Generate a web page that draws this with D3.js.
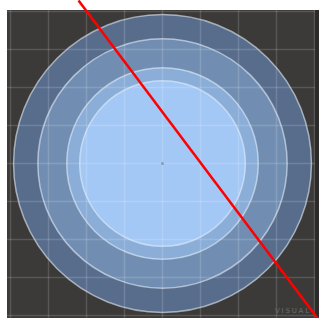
<!DOCTYPE html>
<html>
<head>
<meta charset="utf-8">
<script src="https://cdn.jsdelivr.net/npm/d3@7"></script>
<style>
  body { margin: 0; background: #fff; }
</style>
</head>
<body>
<div id="chart"></div>
<script>
// ring radii, in grid units (outer to inner)
const rings = [3.92, 3.28, 2.52, 2.18];
const ringColors = ["#5a7192", "#7390b5", "#8db0da", "#a6caf6"];
// grid ticks
const gridTicks = [-4, -3, -2, -1, 0, 1, 2, 3, 4];
// red diagonal line end points
const redLine = [[-2.21, 4.29], [4.1, -4.1]];

const W = 319, H = 318;
const panel = {x: 7, y: 10, w: 308, h: 308};
const cx = 162.5, cy = 163.5, unit = 38;

const svg = d3.select("#chart")
    .append("svg")
        .attr("width", W)
        .attr("height", H);

const x = d3.scaleLinear()
    .domain([-4, 4])
    .range([cx - 4 * unit, cx + 4 * unit]);

const y = d3.scaleLinear()
    .domain([-4, 4])
    .range([cy + 4 * unit, cy - 4 * unit]);

// dark panel, with a darker strip on the right edge
svg.append("rect")
    .attr("x", panel.x + panel.w)
    .attr("y", panel.y)
    .attr("width", W - panel.x - panel.w)
    .attr("height", panel.h)
    .attr("fill", "#2c2b2a");

svg.append("rect")
    .attr("x", panel.x)
    .attr("y", panel.y)
    .attr("width", panel.w)
    .attr("height", panel.h)
    .attr("fill", "#3c3a38");

svg.append("clipPath").attr("id", "pclip")
    .append("rect")
    .attr("x", panel.x).attr("y", panel.y)
    .attr("width", panel.w).attr("height", panel.h);

const inner = svg.append("g").attr("clip-path", "url(#pclip)");

// concentric rings
inner.selectAll("circle.ring")
    .data(rings)
    .join("circle")
        .attr("class", "ring")
        .attr("cx", x(0))
        .attr("cy", y(0))
        .attr("r", d => x(d) - x(0))
        .attr("fill", (d, i) => ringColors[i])
        .attr("fill-opacity", 0.93)
        .attr("stroke", "#e4eefa")
        .attr("stroke-opacity", 0.6)
        .attr("stroke-width", 1.5);

// grid on top, faint
inner.selectAll("line.vgrid")
    .data(gridTicks)
    .join("line")
        .attr("class", "vgrid")
        .attr("x1", d => x(d)).attr("x2", d => x(d))
        .attr("y1", panel.y).attr("y2", panel.y + panel.h)
        .attr("stroke", "#ffffff")
        .attr("stroke-opacity", 0.15)
        .attr("stroke-width", 1.5);

inner.selectAll("line.hgrid")
    .data(gridTicks)
    .join("line")
        .attr("class", "hgrid")
        .attr("y1", d => y(d)).attr("y2", d => y(d))
        .attr("x1", panel.x).attr("x2", panel.x + panel.w)
        .attr("stroke", "#ffffff")
        .attr("stroke-opacity", 0.15)
        .attr("stroke-width", 1.5);

// centre mark
inner.append("circle")
    .attr("cx", x(0)).attr("cy", y(0))
    .attr("r", 1.5)
    .attr("fill", "#8a9ab0");

// watermark
svg.append("text")
    .attr("x", 275)
    .attr("y", 313)
    .attr("font-family", "DejaVu Sans, sans-serif")
    .attr("font-size", 7)
    .attr("letter-spacing", 1.8)
    .attr("fill", "#6e6c6a")
    .text("VISUAL");

// red diagonal
svg.append("line")
    .attr("x1", x(redLine[0][0])).attr("y1", y(redLine[0][1]))
    .attr("x2", x(redLine[1][0])).attr("y2", y(redLine[1][1]))
    .attr("stroke", "#ff0000")
    .attr("stroke-width", 2.5);
</script>
</body>
</html>
